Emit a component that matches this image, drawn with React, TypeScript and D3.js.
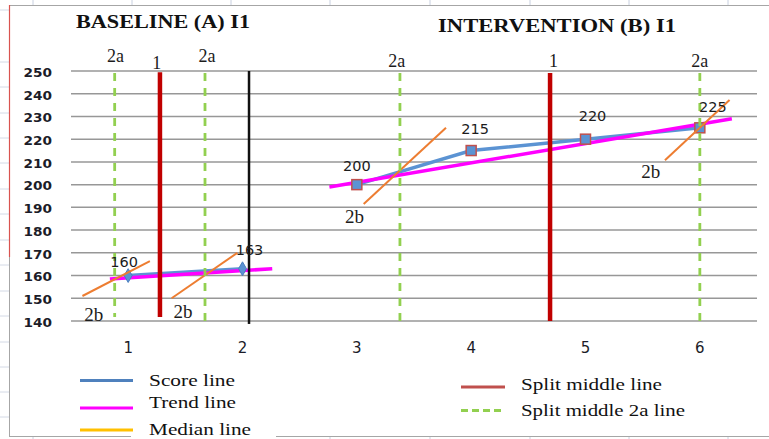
import React from "react";
import * as d3 from "d3";

// ---- data ----
const sessions = [1, 2, 3, 4, 5, 6];
const yTicks = [140, 150, 160, 170, 180, 190, 200, 210, 220, 230, 240, 250];
const baselineScores = [
  { s: 1, v: 160 },
  { s: 2, v: 163 },
];
const interventionScores = [
  { s: 3, v: 200 },
  { s: 4, v: 215 },
  { s: 5, v: 220 },
  { s: 6, v: 225 },
];
const baselineTrend = [
  { s: 0.84, v: 158.5 },
  { s: 2.26, v: 163 },
];
const interventionTrend = [
  { s: 2.76, v: 199 },
  { s: 6.28, v: 229 },
];
const medianLines = [
  [{ s: 0.6, v: 151 }, { s: 1.19, v: 166.3 }],
  [{ s: 1.38, v: 150 }, { s: 1.955, v: 170 }],
  [{ s: 3.06, v: 191.5 }, { s: 3.78, v: 225 }],
  [{ s: 5.695, v: 210.7 }, { s: 6.26, v: 237.2 }],
];
const split2aLines = [
  { s: 0.882, top: 249.1, bottom: 141.8 },
  { s: 1.672, top: 249.1, bottom: 140 },
  { s: 3.377, top: 249.1, bottom: 140 },
  { s: 6.0, top: 249.1, bottom: 138.8 },
];
const splitMiddleLines = [
  { s: 1.278, top: 249.4, bottom: 141.8 },
  { s: 4.69, top: 249.1, bottom: 140 },
];
const phaseLine = { s: 2.057, top: 250, bottom: 138.7 };
const topLabels = [
  { t: "2a", s: 0.89, v: 256.5 },
  { t: "1", s: 1.25, v: 253.5 },
  { t: "2a", s: 1.69, v: 256.5 },
  { t: "2a", s: 3.35, v: 254.5 },
  { t: "1", s: 4.72, v: 254.5 },
  { t: "2a", s: 6.0, v: 254.5 },
];
const label2b = [
  { s: 0.7, v: 142.6 },
  { s: 1.48, v: 143.9 },
  { s: 2.98, v: 185.7 },
  { s: 5.57, v: 205.7 },
];
const pointLabelOffsets = [
  { dx: -4, dy: -14 },
  { dx: 7, dy: -19 },
  { dx: 0, dy: -19 },
  { dx: 4, dy: -22 },
  { dx: 7, dy: -23 },
  { dx: 13, dy: -21 },
];
const titles = [
  { t: "BASELINE (A) I1", x: 163, y: 22, w: 174 },
  { t: "INTERVENTION (B) I1", x: 557, y: 25.5, w: 238 },
];
const legendLeft = [
  { t: "Score line", color: "#4f81bd", ly: 380.5, ty: 380, w: 86, dash: "" },
  { t: "Trend line", color: "#ff00ff", ly: 408, ty: 402, w: 87, dash: "" },
  { t: "Median line", color: "#ffc000", ly: 430, ty: 429.5, w: 102, dash: "" },
];
const legendRight = [
  { t: "Split middle line", color: "#c0504d", ly: 387, ty: 384, w: 141, dash: "" },
  { t: "Split middle 2a line", color: "#92d050", ly: 410.5, ty: 410, w: 164, dash: "7,4" },
];
const sheetRows = [10, 62, 87, 113, 138, 163, 189, 214, 240, 265, 291, 316, 342, 367, 392, 417];
const sheetCols = [33, 132, 231, 330, 430, 530, 629, 728];

export default function App() {
  const W = 769;
  const H = 439;
  const x = d3.scaleLinear().domain([0.5, 6.5]).range([71, 757]);
  const y = d3.scaleLinear().domain([140, 250]).range([321, 71]);
  const line = d3
    .line<{ s: number; v: number }>()
    .x((d) => x(d.s))
    .y((d) => y(d.v));
  const diamond = d3.symbol().type(d3.symbolDiamond).size(55)();
  const allScores = [...baselineScores, ...interventionScores];
  const numFont = "'DejaVu Sans', Verdana, sans-serif";
  const serif = "'Liberation Serif', 'Times New Roman', serif";

  return (
    <svg
      width={W}
      height={H}
      style={{ position: "absolute", left: 0, top: 0, background: "#fff" }}
    >
      {/* spreadsheet background */}
      {sheetRows.map((r) => (
        <line key={"r" + r} x1={0} x2={9} y1={r} y2={r} stroke="#d4dae6" strokeWidth={1} />
      ))}
      {sheetCols.map((c) => (
        <g key={"c" + c}>
          <line x1={c} x2={c} y1={0} y2={5} stroke="#c8d0e0" strokeWidth={1} />
          <line x1={c} x2={c} y1={437} y2={439} stroke="#c8d0e0" strokeWidth={1} />
        </g>
      ))}
      {/* chart frame */}
      <line x1={9} x2={769} y1={5.5} y2={5.5} stroke="#a6a6a6" strokeWidth={1} />
      <line x1={9} x2={769} y1={436.5} y2={436.5} stroke="#a6a6a6" strokeWidth={1} />
      <line x1={9.5} x2={9.5} y1={5} y2={437} stroke="#a6a6a6" strokeWidth={1} />
      <line x1={9.5} x2={9.5} y1={5} y2={257} stroke="#d9534f" strokeWidth={1.2} />

      {/* gridlines */}
      {yTicks.map((t) => (
        <line key={t} x1={71} x2={757} y1={y(t)} y2={y(t)} stroke="#979797" strokeWidth={1.5} />
      ))}
      {yTicks.map((t) => (
        <text
          key={"yt" + t}
          x={23.5}
          y={y(t) + 1.5}
          dy="0.36em"
          fontFamily={numFont}
          fontWeight="bold"
          fontSize={12}
          textLength={28.5}
          lengthAdjust="spacingAndGlyphs"
          fill="#1c1c28"
        >
          {t}
        </text>
      ))}
      {sessions.map((s) => (
        <text
          key={"xt" + s}
          x={x(s)}
          y={347.5}
          dy="0.36em"
          textAnchor="middle"
          fontFamily={numFont}
          fontSize={15}
          fill="#1c1c28"
        >
          {s}
        </text>
      ))}

      {/* score lines */}
      <path d={line(baselineScores)!} fill="none" stroke="#5b93d3" strokeWidth={3.5} />
      <path d={line(interventionScores)!} fill="none" stroke="#5b93d3" strokeWidth={3.5} />
      {/* trend lines */}
      <path d={line(baselineTrend)!} fill="none" stroke="#ff00ff" strokeWidth={3.5} />
      <path d={line(interventionTrend)!} fill="none" stroke="#ff00ff" strokeWidth={3.5} />
      {/* markers */}
      {baselineScores.map((d) => (
        <path
          key={"dm" + d.s}
          d={diamond!}
          transform={`translate(${x(d.s)},${y(d.v)})`}
          fill="#5b93d3"
          stroke="#4a7fc0"
          strokeWidth={1}
        />
      ))}
      {interventionScores.map((d) => (
        <rect
          key={"sq" + d.s}
          x={x(d.s) - 5}
          y={y(d.v) - 5}
          width={10}
          height={10}
          fill="#5b93d3"
          stroke="#c0504d"
          strokeWidth={1.5}
        />
      ))}
      {/* median lines */}
      {medianLines.map((m, i) => (
        <path key={"md" + i} d={line(m)!} fill="none" stroke="#ed7d31" strokeWidth={2} />
      ))}
      {/* vertical lines */}
      {split2aLines.map((l, i) => (
        <line
          key={"g" + i}
          x1={x(l.s)}
          x2={x(l.s)}
          y1={y(l.top)}
          y2={y(l.bottom)}
          stroke="#92d050"
          strokeWidth={2.8}
          strokeDasharray="8,7"
        />
      ))}
      {splitMiddleLines.map((l, i) => (
        <line
          key={"rd" + i}
          x1={x(l.s)}
          x2={x(l.s)}
          y1={y(l.top)}
          y2={y(l.bottom)}
          stroke="#c00000"
          strokeWidth={4.5}
        />
      ))}
      <line
        x1={x(phaseLine.s)}
        x2={x(phaseLine.s)}
        y1={y(phaseLine.top)}
        y2={y(phaseLine.bottom)}
        stroke="#111"
        strokeWidth={2.5}
      />

      {/* point labels */}
      {allScores.map((d, i) => (
        <text
          key={"pl" + i}
          x={x(d.s) + pointLabelOffsets[i].dx}
          y={y(d.v) + pointLabelOffsets[i].dy}
          dy="0.36em"
          textAnchor="middle"
          fontFamily={numFont}
          fontSize={14.5}
          fill="#1c1c1c"
        >
          {d.v}
        </text>
      ))}
      {/* annotation labels */}
      {topLabels.map((l, i) => (
        <text
          key={"tl" + i}
          x={x(l.s)}
          y={y(l.v)}
          dy="0.33em"
          textAnchor="middle"
          fontFamily={serif}
          fontSize={18}
          fill="#1c1c1c"
        >
          {l.t}
        </text>
      ))}
      {label2b.map((l, i) => (
        <text
          key={"tb" + i}
          x={x(l.s)}
          y={y(l.v)}
          dy="0.33em"
          textAnchor="middle"
          fontFamily={serif}
          fontSize={19}
          fill="#1c1c1c"
        >
          2b
        </text>
      ))}

      {/* titles */}
      {titles.map((t) => (
        <text
          key={t.t}
          x={t.x - t.w / 2}
          y={t.y}
          dy="0.35em"
          fontFamily={serif}
          fontWeight="bold"
          fontSize={18}
          textLength={t.w}
          lengthAdjust="spacingAndGlyphs"
          fill="#111"
        >
          {t.t}
        </text>
      ))}

      {/* legend */}
      <rect x={131} y={420} width={145} height={19} fill="#fff" />
      {legendLeft.map((l) => (
        <g key={l.t}>
          <line x1={80} x2={133} y1={l.ly} y2={l.ly} stroke={l.color} strokeWidth={3} />
          <text
            x={149}
            y={l.ty}
            dy="0.33em"
            fontFamily={serif}
            fontSize={17}
            textLength={l.w}
            lengthAdjust="spacingAndGlyphs"
            fill="#111"
          >
            {l.t}
          </text>
        </g>
      ))}
      {legendRight.map((l) => (
        <g key={l.t}>
          <line
            x1={461}
            x2={505}
            y1={l.ly}
            y2={l.ly}
            stroke={l.color}
            strokeWidth={3}
            strokeDasharray={l.dash || undefined}
          />
          <text
            x={521}
            y={l.ty}
            dy="0.33em"
            fontFamily={serif}
            fontSize={17}
            textLength={l.w}
            lengthAdjust="spacingAndGlyphs"
            fill="#111"
          >
            {l.t}
          </text>
        </g>
      ))}
    </svg>
  );
}
